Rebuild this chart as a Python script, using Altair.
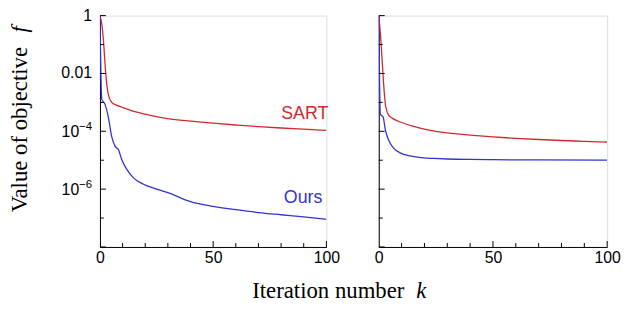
import altair as alt
import pandas as pd

# ---- data ----
k_sart_l = [0, 1, 1.6, 2.6, 3.8, 5.2, 7, 10, 15, 20, 25, 30, 40, 50, 60, 70, 80, 90, 100]
sart_l = [1, 0.4, 0.12, 0.009, 0.0017, 0.001, 8.2e-4, 6.7e-4, 4.9e-4, 3.9e-4, 3.2e-4,
          2.75e-4, 2.25e-4, 1.9e-4, 1.65e-4, 1.45e-4, 1.3e-4, 1.18e-4, 1.07e-4]
k_ours_l = [0, 0.8, 2.2, 3.7, 5.2, 6.7, 8.2, 9.6, 11.8, 14.7, 19, 25, 31.6, 36, 40,
            49, 60, 70, 80, 90, 100]
ours_l = [1, 1.3e-3, 8.7e-4, 3.1e-4, 6.5e-5, 3e-5, 2.3e-5, 1.05e-5, 4.9e-6, 2.5e-6,
          1.5e-6, 1e-6, 6.9e-7, 4.8e-7, 3.7e-7, 2.6e-7, 1.95e-7, 1.55e-7, 1.3e-7,
          1.1e-7, 9e-8]
k_sart_r = [0, 1, 2, 3, 4.3, 6, 9.4, 15, 20, 25, 30, 40, 50, 60, 70, 80, 90, 100]
sart_r = [1, 0.12, 0.006, 7.5e-4, 3.6e-4, 2.8e-4, 2.1e-4, 1.5e-4, 1.18e-4, 1.0e-4,
          8.8e-5, 7.4e-5, 6.4e-5, 5.7e-5, 5.2e-5, 4.8e-5, 4.5e-5, 4.2e-5]
k_ours_r = [0, 0.7, 1.9, 2.9, 4.3, 6.5, 9.4, 13.7, 19.5, 24, 30, 40, 50, 70, 100]
ours_r = [1, 3.9e-4, 3.1e-4, 1.1e-4, 5e-5, 2.6e-5, 1.8e-5, 1.4e-5, 1.2e-5, 1.15e-5,
          1.1e-5, 1.06e-5, 1.04e-5, 1.02e-5, 1.0e-5]

y_major = [1, 0.01, 1e-4, 1e-6, 1e-8]
y_minor = [0.1, 1e-3, 1e-5, 1e-7]
y_plain_vals = [1, 0.01]
y_plain_text = ["1", "0.01"]
y_pow_vals = [1e-4, 1e-6]
y_pow_exp = ["\u22124", "\u22126"]
x_major = [50, 100]
x_minor = [10, 20, 30, 40, 60, 70, 80, 90]
x_labels = [0, 50, 100]

RED = "#d02a2e"
BLUE = "#3333d4"
W1, W2, H = 229, 231, 234
SERIF = "Liberation Serif"
SANS = "Liberation Sans"

yscale = alt.Scale(type="log", domain=[1e-8, 1], nice=False)
xscale = alt.Scale(domain=[0, 100], nice=False)


def panel(ks, ss, ko, so, width, extra=None):
    d1 = pd.DataFrame({"k": ks, "f": ss, "s": "SART"})
    d2 = pd.DataFrame({"k": ko, "f": so, "s": "Ours"})
    yaxis = alt.Axis(ticks=False, grid=False, domainColor="black", domainWidth=1,
                     labels=False, title=None)
    xaxis = alt.Axis(values=x_labels, ticks=False, grid=False, domainColor="black",
                     domainWidth=1, labelFont=SANS, labelFontSize=16,
                     labelColor="black", labelPadding=3, title=None,
                     labelFlush=False)
    base_x = alt.X("k:Q", scale=xscale, axis=xaxis)
    base_y = alt.Y("f:Q", scale=yscale, axis=yaxis)
    l1 = alt.Chart(d1).mark_line(color=RED, strokeWidth=1.3, clip=True,
                                 interpolate="monotone").encode(x=base_x, y=base_y)
    l2 = alt.Chart(d2).mark_line(color=BLUE, strokeWidth=1.3, clip=True,
                                 interpolate="monotone").encode(x=base_x, y=base_y)

    ymaj = alt.Chart(pd.DataFrame({"v": y_major})).mark_rule(color="black").encode(
        y=alt.Y("v:Q", scale=yscale), x=alt.value(0), x2=alt.value(6))
    ymin = alt.Chart(pd.DataFrame({"v": y_minor})).mark_rule(color="black").encode(
        y=alt.Y("v:Q", scale=yscale), x=alt.value(0), x2=alt.value(4))
    xmaj = alt.Chart(pd.DataFrame({"v": x_major})).mark_rule(color="black").encode(
        x=alt.X("v:Q", scale=xscale), y=alt.value(H), y2=alt.value(H - 6))
    xmin = alt.Chart(pd.DataFrame({"v": x_minor})).mark_rule(color="black").encode(
        x=alt.X("v:Q", scale=xscale), y=alt.value(H), y2=alt.value(H - 4))
    layers = [l1, l2, ymaj, ymin, xmaj, xmin]
    if extra:
        layers += extra
    return alt.layer(*layers).properties(width=width, height=H)


lab_sart = alt.Chart(pd.DataFrame({"k": [100], "f": [2.7e-4], "t": ["SART"]})).mark_text(
    color=RED, font=SANS, fontSize=18, align="right", baseline="alphabetic", dx=2
).encode(x=alt.X("k:Q", scale=xscale), y=alt.Y("f:Q", scale=yscale), text="t:N")
lab_ours = alt.Chart(pd.DataFrame({"k": [100], "f": [3.2e-7], "t": ["Ours"]})).mark_text(
    color=BLUE, font=SANS, fontSize=18, align="right", baseline="alphabetic", dx=-4
).encode(x=alt.X("k:Q", scale=xscale), y=alt.Y("f:Q", scale=yscale), text="t:N")

ylab_plain = alt.Chart(pd.DataFrame({"v": y_plain_vals, "t": y_plain_text})).mark_text(
    font=SANS, fontSize=16, align="right", baseline="middle", color="black"
).encode(x=alt.value(-8), y=alt.Y("v:Q", scale=yscale), text="t:N")
ylab_base = alt.Chart(pd.DataFrame({"v": y_pow_vals, "t": ["10", "10"]})).mark_text(
    font=SANS, fontSize=16, align="right", baseline="middle", color="black", dy=1
).encode(x=alt.value(-21), y=alt.Y("v:Q", scale=yscale), text="t:N")
ylab_exp = alt.Chart(pd.DataFrame({"v": y_pow_vals, "t": y_pow_exp})).mark_text(
    font=SANS, fontSize=11.5, align="right", baseline="middle", color="black", dy=-4
).encode(x=alt.value(-8), y=alt.Y("v:Q", scale=yscale), text="t:N")

ytitle = alt.Chart(pd.DataFrame({"t": ["Value of objective"]})).mark_text(
    font=SERIF, fontSize=23, angle=270, align="left", baseline="alphabetic", color="black"
).encode(x=alt.value(-74), y=alt.value(199), text="t:N")
ytitle_f = alt.Chart(pd.DataFrame({"t": ["f"]})).mark_text(
    font=SERIF, fontSize=23, fontStyle="italic", angle=270, align="center",
    baseline="alphabetic", color="black"
).encode(x=alt.value(-74), y=alt.value(14), text="t:N")
xtitle = alt.Chart(pd.DataFrame({"t": ["Iteration number"]})).mark_text(
    font=SERIF, fontSize=23, align="left", baseline="alphabetic", color="black"
).encode(x=alt.value(154), y=alt.value(286), text="t:N")
xtitle_k = alt.Chart(pd.DataFrame({"t": ["k"]})).mark_text(
    font=SERIF, fontSize=23, fontStyle="italic", align="left", baseline="alphabetic",
    color="black"
).encode(x=alt.value(320), y=alt.value(286), text="t:N")

left = panel(k_sart_l, sart_l, k_ours_l, ours_l, W1,
             [lab_sart, lab_ours, ylab_plain, ylab_base, ylab_exp,
              ytitle, ytitle_f, xtitle, xtitle_k])
right = panel(k_sart_r, sart_r, k_ours_r, ours_r, W2)

chart = alt.hconcat(left, right, spacing=53, bounds="flush").properties(
    padding={"left": 0, "top": -3, "right": 0, "bottom": 0}
).configure_view(stroke=None).configure(background="white")

chart.save("out.html", embed_options={"renderer": "svg", "actions": False})
